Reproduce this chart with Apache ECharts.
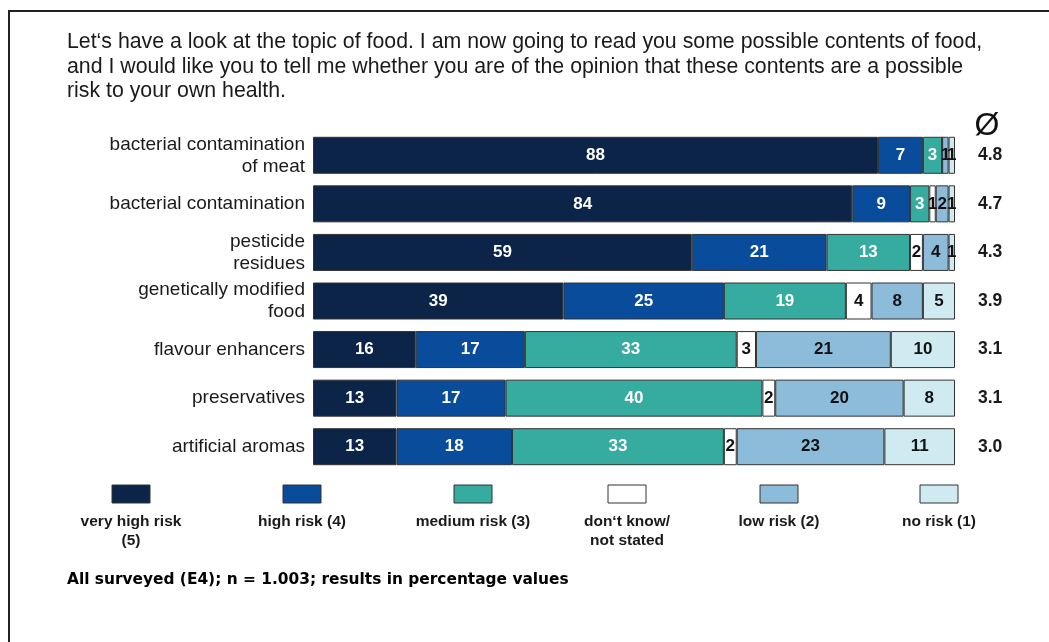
<!DOCTYPE html>
<html>
<head>
<meta charset="utf-8">
<script src="https://cdn.jsdelivr.net/npm/echarts@6/dist/echarts.min.js"></script>
<style>
html,body{margin:0;padding:0;background:#fff;}
#chart{width:1049px;height:642px;}
</style>
</head>
<body>
<div id="chart"></div>
<script>
const titleLines = [
  "Let‘s have a look at the topic of food. I am now going to read you some possible contents of food,",
  "and I would like you to tell me whether you are of the opinion that these contents are a possible",
  "risk to your own health."
];
const categories = [
  "bacterial contamination\nof meat",
  "bacterial contamination",
  "pesticide\nresidues",
  "genetically modified\nfood",
  "flavour enhancers",
  "preservatives",
  "artificial aromas"
];
const seriesNames = ["very high risk\n(5)", "high risk (4)", "medium risk (3)", "don‘t know/\nnot stated", "low risk (2)", "no risk (1)"];
const veryHigh = [88, 84, 59, 39, 16, 13, 13];
const high     = [7, 9, 21, 25, 17, 17, 18];
const medium   = [3, 3, 13, 19, 33, 40, 33];
const dontKnow = [0, 1, 2, 4, 3, 2, 2];
const low      = [1, 2, 4, 8, 21, 20, 23];
const noRisk   = [1, 1, 1, 5, 10, 8, 11];
const means = ["4.8", "4.7", "4.3", "3.9", "3.1", "3.1", "3.0"];
const footnote = "All surveyed (E4); n = 1.003; results in percentage values";

const colors = ["#0b2447", "#0a4c9c", "#36ab9f", "#ffffff", "#8cbcd9", "#cfebf1"];
const labelColors = ["#fff", "#fff", "#fff", "#111", "#111", "#111"];
const seriesData = [veryHigh, high, medium, dontKnow, low, noRisk];

const chart = echarts.init(document.getElementById('chart'), null, {renderer: 'canvas'});

const legendX = [131, 302, 473, 627, 779, 939];
const graphics = [
  {type: 'rect', shape: {x: 9, y: 11, width: 1100, height: 700}, style: {fill: 'none', stroke: '#222', lineWidth: 2}, silent: true},
  {type: 'text', left: 67, top: 30, style: {text: titleLines.join('\n'), font: '21.3px "Liberation Sans", Arial, sans-serif', fill: '#1a1a1a', lineHeight: 24.5}},
  {type: 'text', x: 987, y: 126, style: {text: 'Ø', font: '32px "Liberation Sans", Arial, sans-serif', fill: '#111', align: 'center', verticalAlign: 'middle'}},
  {type: 'text', left: 67, top: 572, style: {text: footnote, font: 'bold 15.4px "DejaVu Sans", sans-serif', fill: '#000'}}
];
seriesNames.forEach((n, i) => {
  graphics.push({type: 'rect', shape: {x: legendX[i] - 19, y: 485, width: 38, height: 18}, style: {fill: colors[i], stroke: '#333', lineWidth: 1}});
  graphics.push({type: 'text', x: legendX[i], y: 512, style: {text: n, font: 'bold 15.5px "Liberation Sans", Arial, sans-serif', fill: '#1a1a1a', align: 'center', verticalAlign: 'top', lineHeight: 19}});
});

const option = {
  animation: false,
  backgroundColor: '#fff',
  grid: {left: 313, right: 94, top: 131, height: 340},
  xAxis: {type: 'value', min: 0, max: 100, show: false},
  yAxis: [
    {type: 'category', data: categories, inverse: true,
     axisLine: {show: false}, axisTick: {show: false},
     axisLabel: {margin: 8, color: '#1a1a1a', fontSize: 19, fontFamily: '"Liberation Sans", Arial, sans-serif', lineHeight: 22, align: 'right'}},
    {type: 'category', data: means, inverse: true, position: 'right',
     axisLine: {show: false}, axisTick: {show: false},
     axisLabel: {margin: 23, color: '#1a1a1a', fontSize: 17.5, fontWeight: 'bold', fontFamily: '"Liberation Sans", Arial, sans-serif'}}
  ],
  series: seriesData.map((d, i) => ({
    name: seriesNames[i],
    type: 'bar',
    stack: 'total',
    barWidth: 37,
    data: d,
    itemStyle: {color: colors[i], borderColor: '#333', borderWidth: 1},
    label: {
      show: true, position: 'inside', color: labelColors[i], fontSize: 17, fontWeight: 'bold',
      fontFamily: '"Liberation Sans", Arial, sans-serif',
      formatter: p => p.value > 0 ? String(p.value) : ''
    }
  })),
  graphic: graphics
};
chart.setOption(option);
</script>
</body>
</html>
